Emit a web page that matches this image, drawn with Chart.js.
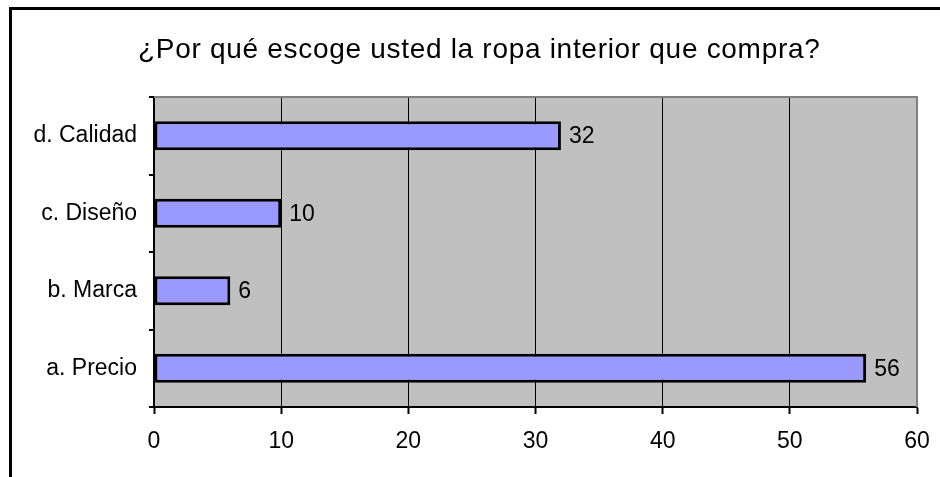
<!DOCTYPE html>
<html>
<head>
<meta charset="utf-8">
<script src="https://cdn.jsdelivr.net/npm/chart.js@4/dist/chart.umd.min.js"></script>
<style>
  html, body { margin: 0; padding: 0; background: #fff; }
  #wrap { width: 940px; height: 477px; position: relative; }
</style>
</head>
<body>
<div id="wrap"><canvas id="c" width="940" height="477"></canvas></div>
<script>
// Survey answers and counts
const titleText = '¿Por qué escoge usted la ropa interior que compra?';
const categories = ['a. Precio', 'b. Marca', 'c. Diseño', 'd. Calidad'];
const counts = [56, 6, 10, 32];
const xTicks = [0, 10, 20, 30, 40, 50, 60];

const FONT = "'Liberation Sans', Arial, sans-serif";
Chart.defaults.font.family = FONT;
Chart.defaults.color = '#000';

// Outer frame, title, grey plot background and its grey border
const framePlugin = {
  id: 'frame',
  beforeDraw(chart) {
    const { ctx, chartArea: a } = chart;
    ctx.save();
    ctx.fillStyle = '#c0c0c0';
    ctx.fillRect(a.left, a.top, a.right - a.left, a.bottom - a.top);
    ctx.restore();
  },
  afterDraw(chart) {
    const { ctx, chartArea: a } = chart;
    ctx.save();
    // plot border (top and right)
    ctx.strokeStyle = '#808080';
    ctx.lineWidth = 2;
    ctx.beginPath();
    ctx.moveTo(a.left, a.top);
    ctx.lineTo(a.right, a.top);
    ctx.lineTo(a.right, a.bottom);
    ctx.stroke();
    // outer frame
    ctx.fillStyle = '#000';
    ctx.fillRect(9, 7, chart.width - 9, 3);
    ctx.fillRect(9, 7, 3, chart.height - 7);
    // title
    ctx.font = '28px ' + FONT;
    ctx.fillStyle = '#000';
    ctx.textAlign = 'left';
    ctx.textBaseline = 'alphabetic';
    if ('letterSpacing' in ctx) ctx.letterSpacing = '0.7px';
    ctx.fillText(titleText, 138, 58);
    ctx.restore();
  }
};

// Value labels at the end of each bar
const valueLabels = {
  id: 'valueLabels',
  afterDatasetsDraw(chart) {
    const { ctx } = chart;
    const meta = chart.getDatasetMeta(0);
    ctx.save();
    ctx.font = '23px ' + FONT;
    ctx.fillStyle = '#000';
    ctx.textAlign = 'left';
    ctx.textBaseline = 'middle';
    meta.data.forEach((el, i) => {
      ctx.fillText(String(chart.data.datasets[0].data[i]), el.x + 8, el.y + 1);
    });
    ctx.restore();
  }
};

new Chart(document.getElementById('c'), {
  type: 'bar',
  data: {
    labels: categories,
    datasets: [{
      data: counts,
      backgroundColor: '#9999ff',
      borderColor: '#000',
      borderWidth: 3,
      borderSkipped: false,
      categoryPercentage: 1,
      barPercentage: 0.375
    }]
  },
  options: {
    indexAxis: 'y',
    responsive: false,
    animation: false,
    events: [],
    layout: { padding: { left: 0, top: 97, right: 23, bottom: 0 } },
    plugins: { legend: { display: false }, title: { display: false }, tooltip: { enabled: false } },
    scales: {
      y: {
        type: 'category',
        reverse: true,
        afterFit(s) { s.width = 154; s.paddingTop = 0; s.paddingBottom = 0; },
        border: { display: true, color: '#000', width: 2 },
        grid: { offset: true, drawOnChartArea: false, color: '#000', tickLength: 5, lineWidth: 2 },
        ticks: { font: { size: 23 }, padding: 12, color: '#000' }
      },
      x: {
        type: 'linear',
        min: xTicks[0],
        max: xTicks[xTicks.length - 1],
        afterFit(s) { s.height = 70; s.paddingLeft = 0; s.paddingRight = 0; },
        afterBuildTicks(s) { s.ticks = xTicks.map(v => ({ value: v })); },
        border: { display: true, color: '#000', width: 2 },
        grid: {
          color: c => (c.index === 0 || c.index === xTicks.length - 1) ? 'rgba(0,0,0,0)' : '#000',
          tickColor: '#000',
          lineWidth: 1,
          tickWidth: 2,
          tickLength: 7
        },
        ticks: { font: { size: 23 }, padding: 14, color: '#000' }
      }
    }
  },
  plugins: [framePlugin, valueLabels]
});
</script>
</body>
</html>
